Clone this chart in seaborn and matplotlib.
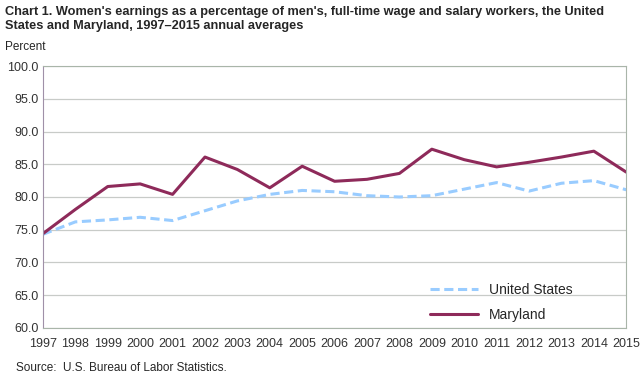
import seaborn as sns, matplotlib.pyplot as plt
import pandas as pd

years = list(range(1997, 2016))
united_states = [74.3, 76.2, 76.5, 76.9, 76.4, 77.9, 79.4, 80.4, 81.0, 80.8, 80.2, 80.0, 80.2, 81.2, 82.2, 80.9, 82.1, 82.5, 81.1]
maryland = [74.4, 78.1, 81.6, 82.0, 80.4, 86.1, 84.2, 81.4, 84.7, 82.4, 82.7, 83.6, 87.3, 85.7, 84.6, 85.3, 86.1, 87.0, 83.8]

df = pd.DataFrame({"year": years * 2,
                   "value": united_states + maryland,
                   "series": ["United States"] * len(years) + ["Maryland"] * len(years)})

sns.set_style("white")
plt.rcParams['font.family'] = ['Liberation Sans', 'DejaVu Sans']

fig = plt.figure(figsize=(6.41, 3.84), dpi=100)
ax = fig.add_axes([0.067, 0.146, 0.910, 0.682])

sns.lineplot(data=df, x="year", y="value", hue="series", style="series",
             palette={"United States": "#99ccff", "Maryland": "#8e2a5a"},
             dashes={"United States": (3, 1.5), "Maryland": ""},
             linewidth=2.2, ax=ax)

ax.set_xlim(1997, 2015)
ax.set_ylim(60, 100)
ax.set_xticks(years)
ax.set_yticks(range(60, 101, 5))
ax.set_yticklabels([f"{v:.1f}" for v in range(60, 101, 5)])
ax.grid(axis="y", color="#c8cbc8", linewidth=0.9)
ax.set_axisbelow(True)
ax.tick_params(axis="both", labelsize=9, colors="#333333", length=0, pad=3)
ax.tick_params(axis="x", length=4, direction="in", color="#c0c0c0", pad=7)
for side in ["top", "right", "bottom"]:
    ax.spines[side].set_color("#a9b5a9")
ax.spines["left"].set_color("#a090a8")
ax.set_xlabel("")
ax.set_ylabel("")

leg = ax.legend(loc="lower right", frameon=False, fontsize=10, handlelength=3.5,
                labelspacing=0.8, bbox_to_anchor=(0.93, -0.025))

fig.text(0.008, 0.985, "Chart 1. Women's earnings as a percentage of men's, full-time wage and salary workers, the United\nStates and Maryland, 1997\u20132015 annual averages",
         ha="left", va="top", fontsize=9.2, fontweight="bold", linespacing=1.3)
fig.text(0.008, 0.862, "Percent", ha="left", va="bottom", fontsize=8.5)
fig.text(0.025, 0.025, "Source:  U.S. Bureau of Labor Statistics.", ha="left", va="bottom", fontsize=8.5)

fig.savefig("out.png", dpi=100)
